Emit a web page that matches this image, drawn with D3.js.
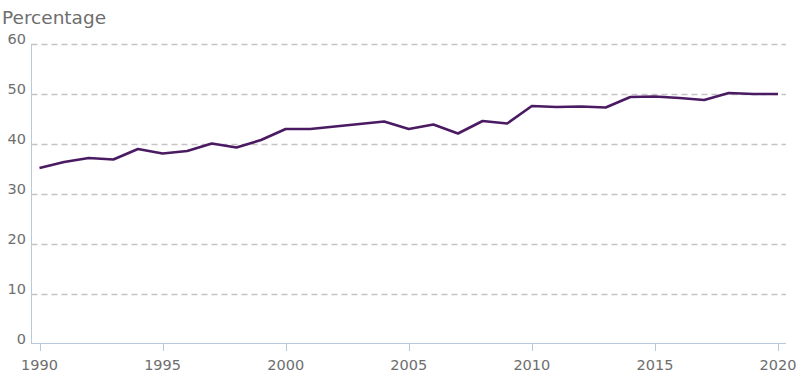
<!DOCTYPE html>
<html lang="en">
<head>
<meta charset="UTF-8">
<title>Percentage</title>
<style>
  body { margin: 0; background: #fff; }
  text { font-family: "DejaVu Sans", Verdana, sans-serif; fill: #6e6e6e; }
</style>
</head>
<body>
<script src="https://d3js.org/d3.v7.min.js"></script>
<script>
// years and values
const years = d3.range(1990, 2021);
const values = [35.2, 36.4, 37.2, 36.9, 39.0, 38.1, 38.6, 40.1, 39.3, 40.8,
                43.0, 43.0, 43.5, 44.0, 44.5, 43.0, 43.9, 42.1, 44.6, 44.1,
                47.6, 47.4, 47.5, 47.3, 49.4, 49.5, 49.2, 48.8, 50.2, 50.0, 50.0];
const yTicks = [0, 10, 20, 30, 40, 50, 60];
const xTicks = [1990, 1995, 2000, 2005, 2010, 2015, 2020];

const width = 800, height = 377;
const svg = d3.select('body').append('svg').attr('width', width).attr('height', height);

const x = d3.scaleLinear().domain([1990, 2020]).range([39.5, 778]);
const y = d3.scaleLinear().domain([0, 60]).range([344, 44]);
const left = 31.5, right = 786;

// title
svg.append('text').attr('x', 2).attr('y', 24).style('font-size', '18.5px').text('Percentage');

// gridlines
svg.selectAll('.grid')
    .data(yTicks.filter(d => d > 0))
    .enter().append('line')
    .attr('class', 'grid')
    .attr('x1', left).attr('x2', right)
    .attr('y1', d => Math.round(y(d)) + 0.5).attr('y2', d => Math.round(y(d)) + 0.5)
    .style('stroke', '#c4c4c4').style('stroke-width', 1.4)
    .style('stroke-dasharray', '6,4');

// y labels
svg.selectAll('.ylab')
    .data(yTicks)
    .enter().append('text')
    .attr('class', 'ylab')
    .attr('x', 26).attr('y', d => y(d) - 0.5)
    .attr('text-anchor', 'end')
    .style('font-size', '14.5px')
    .text(d => d);

// axes lines
svg.append('line').attr('x1', left).attr('x2', left).attr('y1', 44).attr('y2', 344)
    .style('stroke', '#b8c8de').style('stroke-width', 1);
svg.append('line').attr('x1', left).attr('x2', right).attr('y1', 343.5).attr('y2', 343.5)
    .style('stroke', '#b8c8de').style('stroke-width', 1);

// x ticks and labels
svg.selectAll('.xtick')
    .data(xTicks)
    .enter().append('line')
    .attr('class', 'xtick')
    .attr('x1', d => Math.round(x(d)) + 0.5).attr('x2', d => Math.round(x(d)) + 0.5)
    .attr('y1', 344).attr('y2', 351)
    .style('stroke', '#b8c8de');

svg.selectAll('.xlab')
    .data(xTicks)
    .enter().append('text')
    .attr('class', 'xlab')
    .attr('x', d => x(d)).attr('y', 370)
    .attr('text-anchor', 'middle')
    .style('font-size', '14.5px')
    .text(d => d);

// line
const line = d3.line()
    .x((d, i) => x(years[i]))
    .y(d => y(d));

svg.append('path')
    .datum(values)
    .attr('d', line)
    .style('fill', 'none')
    .style('stroke', '#4a1a63')
    .style('stroke-width', 2.6)
    .style('stroke-linejoin', 'round');
</script>
</body>
</html>
